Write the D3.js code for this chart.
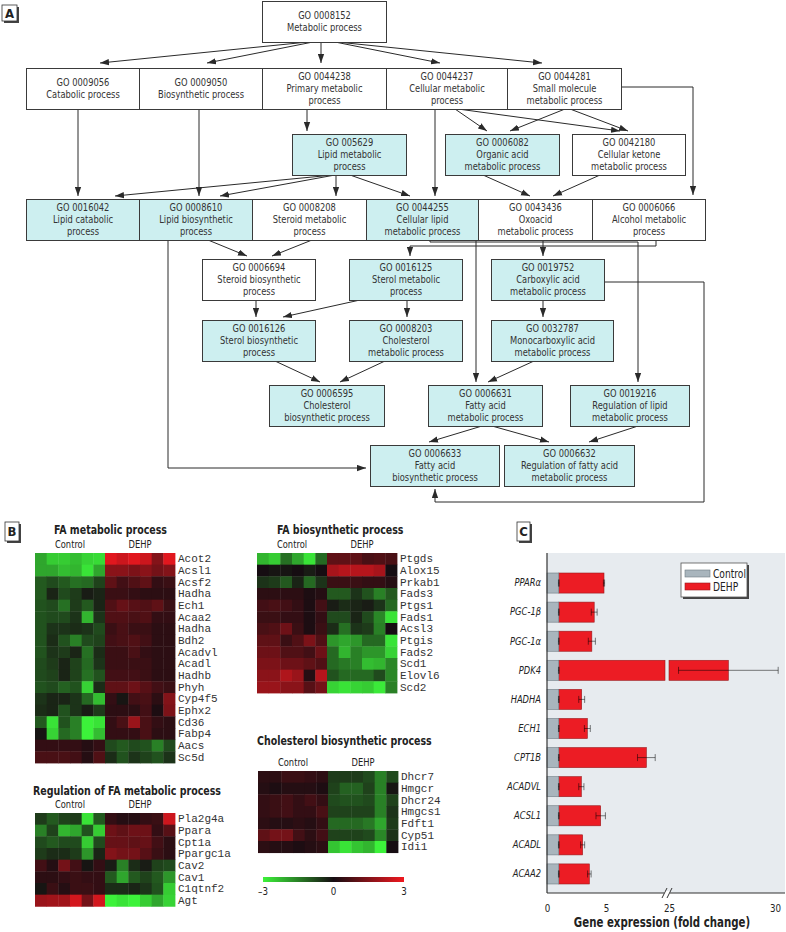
<!DOCTYPE html>
<html><head><meta charset="utf-8">
<script src="https://cdn.jsdelivr.net/npm/d3@7"></script>
<style>
body{margin:0;background:#fff}
svg{display:block}
text{font-family:"Liberation Sans Narrow","Arial Narrow","DejaVu Sans Condensed",Roboto,sans-serif;fill:#222}
</style>
</head><body>
<svg id="c" width="786" height="932"></svg>
<script>
// ================= DATA =================
// Panel A: GO terms
const goIds = ["GO 0008152","GO 0009056","GO 0009050","GO 0044238","GO 0044237","GO 0044281","GO 005629","GO 0006082","GO 0042180","GO 0016042","GO 0008610","GO 0008208","GO 0044255","GO 0043436","GO 0006066","GO 0006694","GO 0016125","GO 0019752","GO 0016126","GO 0008203","GO 0032787","GO 0006595","GO 0006631","GO 0019216","GO 0006633","GO 0006632"];
const goNames = [["Metabolic process"],["Catabolic process"],["Biosynthetic process"],["Primary metabolic","process"],["Cellular metabolic","process"],["Small molecule","metabolic process"],["Lipid metabolic","process"],["Organic acid","metabolic process"],["Cellular ketone","metabolic process"],["Lipid catabolic","process"],["Lipid biosynthetic","process"],["Steroid metabolic","process"],["Cellular lipid","metabolic process"],["Oxoacid","metabolic process"],["Alcohol metabolic","process"],["Steroid biosynthetic","process"],["Sterol metabolic","process"],["Carboxylic acid","metabolic process"],["Sterol biosynthetic","process"],["Cholesterol","metabolic process"],["Monocarboxylic acid","metabolic process"],["Cholesterol","biosynthetic process"],["Fatty acid","metabolic process"],["Regulation of lipid","metabolic process"],["Fatty acid","biosynthetic process"],["Regulation of fatty acid","metabolic process"]];
const goEnriched = [0,0,0,0,0,0,1,1,0,1,1,0,1,0,0,0,1,1,1,1,1,1,1,1,1,1];
const goEdges = [[0,1],[0,2],[0,3],[0,4],[0,5],[1,9],[2,10],[3,6],[4,12],[4,7],[4,8],[5,7],[5,8],[5,14],[6,9],[6,10],[6,11],[6,12],[7,13],[8,13],[10,15],[11,15],[10,24],[14,16],[12,23],[12,22],[13,17],[15,18],[16,18],[16,19],[17,20],[17,24],[18,21],[19,21],[20,22],[22,24],[22,25],[23,25]];

// Panel B: heatmaps (log ratio, -3..3), 6 control + 6 DEHP columns
const sampleGroups = ["Control","DEHP"];
const faMetGenes = ["Acot2","Acsl1","Acsf2","Hadha","Ech1","Acaa2","Hadha","Bdh2","Acadvl","Acadl","Hadhb","Phyh","Cyp4f5","Ephx2","Cd36","Fabp4","Aacs","Sc5d"];
const faMetValues = [
 [-2,-2.5,-2.5,-2.3,-2.6,-2.7, 2.8,2.5,2.8,2.5,1.5,2.8],
 [-2,-2,-2.3,-2.2,-2.8,-2, 1.6,1.6,1.4,1.6,1.3,1.5],
 [-1,-0.8,-1,-1.3,-1.2,-0.7, 1.0,0.6,0.8,1.0,0.4,0.5],
 [-1,-0.3,-0.8,-0.6,-0.2,-0.3, 0.5,0.5,0.4,0.3,0.3,0.3],
 [-0.9,-0.8,-1.3,-0.6,-1,-0.3, 0.8,1.1,0.9,0.8,1.0,0.5],
 [-0.9,-0.8,-0.8,-0.5,-2.2,-0.5, 0.8,0.8,0.7,0.8,0.4,0.4],
 [-0.9,-0.5,-0.5,-0.4,-0.5,-0.8, 0.5,0.7,0.5,0.5,0.3,0.3],
 [-0.9,-0.4,-0.9,-1.5,-0.8,-0.7, 0.6,0.7,0.8,0.6,0.3,0.3],
 [-0.9,-0.5,-0.6,-0.3,-1.3,-0.4, 0.5,0.5,0.7,0.4,0.3,0.3],
 [-0.8,-0.6,-0.3,-0.7,-1.2,-0.5, 0.5,0.5,0.5,0.5,0.3,0.3],
 [-0.8,-0.7,-0.3,-0.7,-1.3,-0.9, 0.6,0.6,0.6,0.5,0.3,0.3],
 [-0.9,-0.8,-1.1,-0.9,-2.6,-0.4, 1.0,1.0,1.2,0.9,0.6,0.5],
 [-0.5,-0.3,-0.3,-0.5,-1.2,-2.3, 0.4,-0.1,0.6,0.7,0.3,1.5],
 [-0.4,-0.3,-0.9,-0.5,-0.2,-0.6, 0.3,0.3,0.3,0.6,0.1,1.4],
 [-1,-2.8,-0.9,-1.5,-3,-2.8, 0.4,0.7,1.8,0.7,0.4,0.3],
 [-0.1,-2.6,-1.2,-1.5,-3,-2.3, 0.4,0.4,0.4,0.7,0.3,0.3],
 [0.4,0.4,0.4,0.4,0.2,0.4, -0.8,-1,-0.8,-0.9,-1.5,-0.8],
 [0.7,0.7,0.7,0.6,0.2,0.8, -0.4,-0.9,-0.5,-0.7,-0.9,-0.5]
];
const regGenes = ["Pla2g4a","Ppara","Cpt1a","Ppargc1a","Cav2","Cav1","C1qtnf2","Agt"];
const regValues = [
 [-0.6,-1,-0.7,-0.6,-2.8,-1, 0.4,0.2,0.2,0.4,0.5,2.5],
 [-1.5,-0.7,-2.2,-2,-0.9,-2.5, 1.2,1.0,1.2,1.2,0.4,0.9],
 [-0.8,-1,-0.8,-0.8,-2.5,-0.8, 1.1,1.1,1.0,1.1,0.6,0.3],
 [-0.6,-0.4,-0.4,-0.6,-1.8,-0.3, 1.5,1.3,1.3,0.9,0.5,0.3],
 [0.6,0.2,1.3,0.6,-0.1,0.4, -0.2,-1.5,-0.4,-0.2,-0.7,-0.8],
 [0.3,0.3,0.4,0.5,0.4,0.4, -1,-2,-1,-0.7,-1,-1.8],
 [-0.1,0.5,0.2,0.5,0.5,0.4, -0.4,-0.4,-0.3,-0.5,-0.9,-2.5],
 [1.8,1.9,1.9,2.6,1.3,2.6, -3,-2.8,-3,-2.5,-2,-2.6]
];
const faBioGenes = ["Ptgds","Alox15","Prkab1","Fads3","Ptgs1","Fads1","Acsl3","Ptgis","Fads2","Scd1","Elovl6","Scd2"];
const faBioValues = [
 [-2.2,-2.5,-1.3,-2,-2.8,-1.2, 1.0,1.0,1.0,0.7,0.8,0.7],
 [0,-0.1,-0.1,0,-0.2,0, 2,2.2,2.2,2.2,2.0,0],
 [-0.5,-0.6,-1,-0.3,-1.2,-0.5, 0.5,0.5,0.5,0.4,0.4,0.2],
 [0.3,0.3,0.3,0.3,0.1,0.2, -1,-1,-0.5,-0.9,-1.5,-1],
 [0.6,0.7,0.6,0.4,0.1,0.6, -0.2,-0.4,-0.3,-0.2,-0.5,-1.2],
 [0.5,0.5,0.4,0.4,0.1,0.4, -0.8,-0.8,-0.3,-0.8,-1.6,-2.8],
 [0.7,0.8,1.2,0.5,0.1,0.5, -0.4,-1.3,-0.5,-0.6,-1.5,0],
 [1.0,1.0,0.5,0.8,1.4,0.8, -1.8,-2,-1.8,-1.2,-1.2,-2.8],
 [1.2,1.2,0.8,0.8,0.6,1.2, -1.2,-2.2,-1.5,-1.8,-1.8,-2.6],
 [1.4,1.4,1.2,1.2,1.0,0.8, -1.2,-1.4,-1.5,-2.3,-2.2,-1.6],
 [1.6,1.6,2.1,1.8,0.2,2.2, -0.9,-1.2,-1.2,-1.2,-0.8,-1.6],
 [1.8,1.8,1.6,1.6,0.9,1.3, -2.6,-2.8,-2.6,-2.5,-2.9,-1.5]
];
const cholGenes = ["Dhcr7","Hmgcr","Dhcr24","Hmgcs1","Fdft1","Cyp51","Idi1"];
const cholValues = [
 [0.3,0.3,0.5,0.5,0.4,0.3, -0.6,-0.6,-0.6,-0.8,-1.5,-0.8],
 [0.2,0.1,0.2,0.2,0.2,0.1, -0.7,-1.1,-1.1,-0.7,-1.5,-0.1],
 [0.4,0.5,0.6,0.4,0.6,0.4, -0.8,-0.9,-0.9,-0.8,-1.5,-0.7],
 [0.4,0.5,0.6,0.4,0.4,0.7, -0.7,-0.7,-0.7,-0.7,-1.5,-0.5],
 [0.3,0.2,0.2,0.3,0.2,0.4, -1.2,-1.2,-1.2,-1.4,-2,-0.6],
 [1.0,1.3,1.3,0.6,0.3,0.6, -0.7,-0.7,-0.7,-0.8,-1.6,-0.5],
 [0.3,0.2,0.2,0.1,0.2,0.3, -2.4,-2.8,-2.4,-2.2,-3,0]
];
const colorTicks = [-3,0,3];

// Panel C: qPCR fold change
const barGenes = ["PPARα","PGC-1β","PGC-1α","PDK4","HADHA","ECH1","CPT1B","ACADVL","ACSL1","ACADL","ACAA2"];
const controlMean = [1,1,1,1,1,1,1,1,1,1,1];
const controlErr  = [0.03,0.03,0.03,0.03,0.03,0.03,0.03,0.03,0.03,0.03,0.03];
const dehpMean = [4.83,4.0,3.8,27.8,2.94,3.42,8.42,2.91,4.55,3.02,3.59];
const dehpErr  = [0.05,0.25,0.3,2.35,0.25,0.25,0.75,0.22,0.4,0.17,0.15];
const xTickValues = [0,5,25,30];
const xBreak = [10,25];

// ================= LAYOUT =================
const svg = d3.select("#c");
const INK = "#2a2a2a";
const CYAN = "#cdeff0";
const rowTops = [1,68,134,199,259,320,385,445];
const boxH = 41;
// [x0, x1, row]
const nodeBoxes = [[262,386,0],[26,139,1],[139,262,1],[262,386,1],[386,507,1],[507,621,1],
 [292,406,2],[445,559,2],[572,685,2],
 [26,139,3],[139,252,3],[252,366,3],[366,478,3],[478,592,3],[592,705,3],
 [202,315,4],[349,462,4],[491,604,4],
 [202,315,5],[349,462,5],[491,613,5],
 [269,384,6],[428,542,6],[570,689,6],
 [370,499,7],[504,634,7]];
const edgeAttach = [[308,100],[313,207],[321,321],[335,440],[337,542],[78,78],[199,199],[307,307],[435,435],[455,487],[458,620],[565,510],[570,628],null,
 [333,115],[335,220],[336,336],[350,410],[483,530],[600,553],[208,247],[312,272],null,null,null,[476,476],[543,543],[256,256],[360,283],[407,407],[543,543],null,
 [275,320],[385,340],[534,488],[482,429],[492,549],[638,589]];
const top_ = i => rowTops[nodeBoxes[i][2]];
const bot_ = i => rowTops[nodeBoxes[i][2]] + boxH;
const customRoutes = {
 13: () => [[nodeBoxes[5][1], 87],[693,87],[693, top_(14)-4]],
 22: () => [[168, bot_(10)],[168, 468],[nodeBoxes[24][0]-4, 468]],
 23: () => [[656, bot_(14)],[656,246],[410,246],[410, top_(16)-3]],
 24: () => [[430, bot_(12)],[430,242],[638,242],[638, top_(23)-3]],
 31: () => [[nodeBoxes[17][1], 282],[704,282],[704,502],[435,502],[435, bot_(24)+3]]
};

// text condensing (reference uses a condensed typeface)
function measure(str, size, weight){
  const t = svg.append("text").attr("font-size",size).attr("font-weight",weight||"normal").text(str);
  const w = t.node().getComputedTextLength(); t.remove(); return w;
}
const fReg = Math.min(1, 75 / measure("Metabolic process", 10.5));
const fBold = Math.min(1, 113 / measure("FA metabolic process", 12.5, "bold"));
function condense(sel, f){
  sel.each(function(){
    const x = +this.getAttribute("x") || 0;
    this.setAttribute("transform", `translate(${x},0) scale(${f},1) translate(${-x},0)`);
  });
}

const defs = svg.append("defs");
defs.append("marker").attr("id","ah").attr("viewBox","0 0 10 7").attr("refX",10).attr("refY",3.5)
  .attr("markerWidth",9).attr("markerHeight",7).attr("orient","auto").attr("markerUnits","userSpaceOnUse")
  .append("path").attr("d","M0,0L10,3.5L0,7Z").attr("fill",INK);

function panelLabel(x,y,w,h,t){
  svg.append("rect").attr("x",x+2).attr("y",y+2).attr("width",w).attr("height",h).attr("fill","#444");
  svg.append("rect").attr("x",x).attr("y",y).attr("width",w).attr("height",h).attr("fill","#fff").attr("stroke","#333").attr("stroke-width",0.8);
  svg.append("text").attr("x",x+w/2).attr("y",y+h/2+4.5).attr("text-anchor","middle").attr("font-weight","bold").attr("font-size",13).text(t);
}

// ---- Panel A ----
panelLabel(2,5,15,16,"A");
const gA = svg.append("g");
const line = d3.line();
goEdges.forEach((e,k)=>{
  let pts;
  if (customRoutes[k]) pts = customRoutes[k]();
  else {
    const [sx,tx] = edgeAttach[k];
    const tgtRow = nodeBoxes[e[1]][2];
    pts = [[sx, bot_(e[0])],[tx, top_(e[1]) - (tgtRow===1?5:3)]];
  }
  gA.append("path").attr("d",line(pts)).attr("fill","none").attr("stroke",INK).attr("stroke-width",1).attr("marker-end","url(#ah)");
});
const nodes = gA.selectAll("g.node").data(goIds).join("g").attr("class","node");
nodes.append("rect")
  .attr("x",(d,i)=>nodeBoxes[i][0]+0.5).attr("y",(d,i)=>top_(i)+0.5)
  .attr("width",(d,i)=>nodeBoxes[i][1]-nodeBoxes[i][0]).attr("height",boxH)
  .attr("fill",(d,i)=>goEnriched[i]?CYAN:"#fff").attr("stroke","#3a3a3a").attr("stroke-width",1);
nodes.each(function(d,i){
  const lines = [d].concat(goNames[i]);
  const cx = (nodeBoxes[i][0]+nodeBoxes[i][1])/2 + 0.5;
  const cy = top_(i) + boxH/2;
  const ts = d3.select(this).selectAll("text").data(lines).join("text")
    .attr("x",cx).attr("y",(t,j)=>cy + (j-(lines.length-1)/2)*12 + 4)
    .attr("text-anchor","middle").attr("font-size",10.5).style("fill","#333").text(t=>t);
  condense(ts, fReg);
});

// ---- Panel B ----
panelLabel(5,522,14,19,"B");
const heatColor = d3.scaleLinear().domain([-3,0,3]).range(["#3cf23a","#160d12","#f0181f"]).clamp(true);
function heatmap(x0,y0,title,tx,ty,genes,values){
  const g = svg.append("g");
  const cols = d3.range(12);
  const xs = d3.scaleBand().domain(cols).range([x0,x0+140]);
  const ys = d3.scaleBand().domain(d3.range(genes.length)).range([y0,y0+genes.length*140/12]);
  values.forEach((row,r)=>{
    g.selectAll(null).data(row).join("rect")
      .attr("x",(v,c)=>xs(c)).attr("y",ys(r)).attr("width",xs.bandwidth()+0.4).attr("height",ys.bandwidth()+0.4)
      .attr("fill",v=>heatColor(v));
  });
  g.selectAll("text.gene").data(genes).join("text").attr("class","gene")
    .attr("x",x0+143).attr("y",(d,i)=>ys(i)+ys.bandwidth()/2+3.5)
    .style("font-family","'Liberation Mono','Courier New',monospace").attr("font-size",11).style("fill","#333").text(d=>d);
  const gl = g.selectAll("text.grp").data(sampleGroups).join("text").attr("class","grp")
    .attr("x",(d,i)=>x0+35+i*70).attr("y",y0-5).attr("text-anchor","middle").attr("font-size",10.5).text(d=>d);
  condense(gl, fReg);
  const tt = g.append("text").attr("x",tx).attr("y",ty).attr("font-weight","bold").attr("font-size",12.5).text(title);
  condense(tt, fBold);
}
heatmap(35,553,"FA metabolic process",54,534,faMetGenes,faMetValues);
heatmap(35,813,"Regulation of FA metabolic process",33,795,regGenes,regValues);
heatmap(257,553,"FA biosynthetic process",277,534,faBioGenes,faBioValues);
heatmap(258,771,"Cholesterol biosynthetic process",257,745,cholGenes,cholValues);

// color legend
const grad = defs.append("linearGradient").attr("id","hg");
d3.range(-3,3.01,0.5).forEach(v=>grad.append("stop").attr("offset",((v+3)/6*100)+"%").attr("stop-color",heatColor(v)));
const cx = d3.scaleLinear().domain([-3,3]).range([263,404]);
svg.append("rect").attr("x",cx(-3)).attr("y",877).attr("width",cx(3)-cx(-3)).attr("height",5).attr("fill","url(#hg)");
const ctl = svg.selectAll("text.ct").data(colorTicks).join("text").attr("class","ct")
  .attr("x",d=>cx(d)).attr("y",895).attr("text-anchor","middle").attr("font-size",11)
  .text(d=>d<0?"\u2013"+Math.abs(d):d);
condense(ctl, fReg);

// ---- Panel C ----
panelLabel(517,522,13,19,"C");
const px0 = 547, px1 = 785, py0 = 553, py1 = 893;
const PLOTBG = "#e7ebef";
svg.append("rect").attr("x",px0).attr("y",py0).attr("width",px1-px0).attr("height",py1-py0).attr("fill",PLOTBG);
const x = d3.scaleLinear().domain([0,xBreak[0],xBreak[1],30]).range([px0,665,669,775]);
const y = d3.scaleBand().domain(barGenes).range([568.5,888.5]).paddingInner(0.31).paddingOuter(0.155);
const gC = svg.append("g");
barGenes.forEach((g,i)=>{
  const v = dehpMean[i];
  const segs = v > xBreak[1] ? [[controlMean[i], xBreak[0]],[xBreak[1], v]] : [[controlMean[i], v]];
  segs.forEach(s=>{
    gC.append("rect").attr("x",x(s[0])).attr("y",y(g)).attr("width",x(s[1])-x(s[0])).attr("height",y.bandwidth())
      .attr("fill","#ec1c24").attr("stroke","#9a1a1d").attr("stroke-width",0.6);
  });
  gC.append("rect").attr("x",x(0)).attr("y",y(g)).attr("width",x(controlMean[i])-x(0)).attr("height",y.bandwidth())
    .attr("fill","#a9b5bd").attr("stroke","#6f7b83").attr("stroke-width",0.6);
});
function errBar(g,m,e){
  const yc = y(g)+y.bandwidth()/2;
  const a = x(m-e), b = x(m+e);
  const eg = gC.append("g").attr("stroke","#000").attr("stroke-opacity",0.5).attr("stroke-width",1);
  eg.append("line").attr("x1",a).attr("x2",b).attr("y1",yc).attr("y2",yc);
  eg.append("line").attr("x1",a).attr("x2",a).attr("y1",yc-3.5).attr("y2",yc+3.5);
  eg.append("line").attr("x1",b).attr("x2",b).attr("y1",yc-3.5).attr("y2",yc+3.5);
}
barGenes.forEach((g,i)=>{ errBar(g,controlMean[i],controlErr[i]); errBar(g,dehpMean[i],dehpErr[i]); });

const yAx = svg.append("g").attr("transform",`translate(${px0},0)`).call(d3.axisLeft(y).tickSize(0).tickPadding(6));
yAx.attr("font-family",null);
yAx.select(".domain").remove();
const ytx = yAx.selectAll("text").attr("font-size",10.5).attr("font-style","italic").style("fill","#222");
condense(ytx, fReg);
const xAx = svg.append("g").attr("transform",`translate(0,${py1})`).call(d3.axisBottom(x).tickValues(xTickValues).tickSize(0).tickPadding(11));
xAx.attr("font-family",null);
xAx.select(".domain").remove();
const xtx = xAx.selectAll("text").attr("font-size",11).style("fill","#222");
condense(xtx, fReg);
svg.append("line").attr("x1",px0).attr("x2",px0).attr("y1",py0).attr("y2",py1).attr("stroke","#333").attr("stroke-width",1.2);
svg.append("line").attr("x1",px0).attr("x2",px1).attr("y1",py1).attr("y2",py1).attr("stroke","#333").attr("stroke-width",1.2);
const bx = (x(xBreak[0])+x(xBreak[1]))/2;
svg.append("rect").attr("x",bx-3).attr("y",py1-2).attr("width",6).attr("height",4).attr("fill","#fff");
[-2.5,2.5].forEach(o=>svg.append("line").attr("x1",bx+o-2.5).attr("x2",bx+o+2.5).attr("y1",py1+5).attr("y2",py1-5).attr("stroke","#333").attr("stroke-width",1));
const xt = svg.append("text").attr("x",662).attr("y",927).attr("text-anchor","middle").attr("font-weight","bold").attr("font-size",13.5).text("Gene expression (fold change)");
condense(xt, fBold);

const lg = svg.append("g");
lg.append("rect").attr("x",683).attr("y",565).attr("width",66).attr("height",34).attr("fill","#444");
lg.append("rect").attr("x",681).attr("y",563).attr("width",66).attr("height",34).attr("fill","#fff").attr("stroke","#555").attr("stroke-width",0.8);
const legItems = [["Control","#a9b5bd","#6f7b83"],["DEHP","#ec1c24","#9a1a1d"]];
legItems.forEach((it,i)=>{
  lg.append("rect").attr("x",685).attr("y",570+i*13).attr("width",25).attr("height",7).attr("fill",it[1]).attr("stroke",it[2]).attr("stroke-width",0.6);
  const lt = lg.append("text").attr("x",713).attr("y",578+i*13).attr("font-size",11.5).text(it[0]);
  condense(lt, fReg);
});
</script>
</body></html>
